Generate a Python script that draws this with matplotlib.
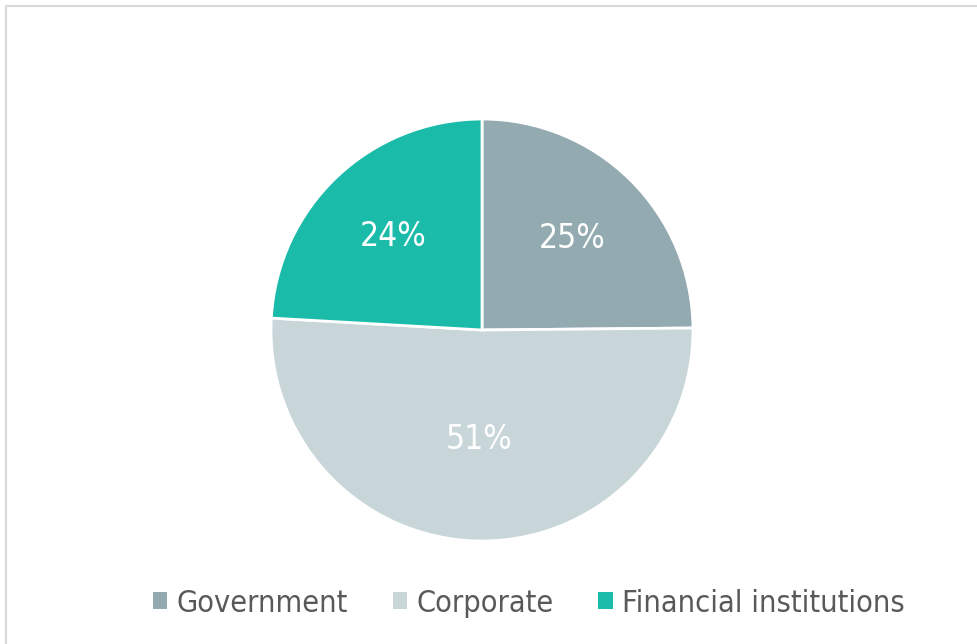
import matplotlib
matplotlib.use("Agg")
import matplotlib.pyplot as plt
import numpy as np
from matplotlib.patches import Rectangle

categories = ["Government", "Corporate", "Financial institutions"]
values = [24.85, 51.05, 24.1]
labels = ["25%", "51%", "24%"]
colors = ["#92AAB0", "#C8D5D9", "#1ABCA9"]
label_dist = [0.61, 0.52, 0.61]

W, H = 978, 644
fig = plt.figure(figsize=(W/100, H/100), dpi=100)
fig.patches.append(Rectangle((6/W, -0.1), 1.2, (644-6)/H + 0.1, transform=fig.transFigure,
                             fill=False, edgecolor="#D9D9D9", linewidth=1.5))

cx, cy, r = 482, 330, 211
ax = fig.add_axes([(cx-r)/W, (H-cy-r)/H, 2*r/W, 2*r/H])
wedges, _ = ax.pie(values, colors=colors, startangle=90, counterclock=False,
                   wedgeprops=dict(edgecolor="white", linewidth=2.0), radius=1.0)
ax.set_xlim(-1, 1); ax.set_ylim(-1, 1); ax.set_aspect("equal")
ax.axis("off")

for w, lab, d in zip(wedges, labels, label_dist):
    ang = np.deg2rad((w.theta1 + w.theta2) / 2)
    ax.text(d*np.cos(ang), d*np.sin(ang), lab, ha="center", va="center",
            color="white", fontsize=24, family="DejaVu Sans", fontstretch="condensed")

handles = [Rectangle((0, 0), 1, 1, facecolor=c, edgecolor="none") for c in colors]
leg = fig.legend(handles, categories, loc="center", bbox_to_anchor=(529/W, 1-603/H),
                 ncol=3, frameon=False, handlelength=0.47, handleheight=0.47,
                 handletextpad=0.32, columnspacing=1.45,
                 prop=dict(family="DejaVu Sans", size=22, stretch="condensed"))
for t in leg.get_texts():
    t.set_color("#595959")

fig.savefig("out.png", dpi=100)
